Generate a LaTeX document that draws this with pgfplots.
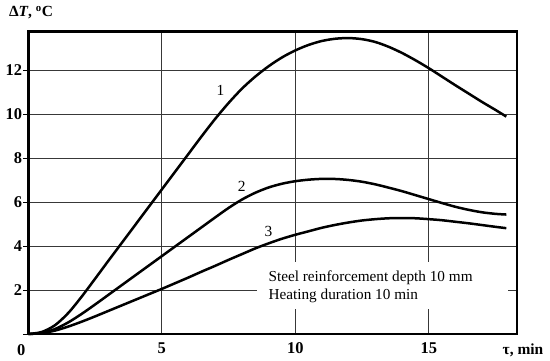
\documentclass[border=0pt]{standalone}
\usepackage{fontspec}
\setmainfont{Liberation Serif}
\usepackage{pgfplots}
\pgfplotsset{compat=1.18}

\pgfplotstableread{
t T
0 0
0.5 0.09
1 0.40
1.5 0.96
2 1.70
2.5 2.51
3 3.33
3.5 4.14
4 4.95
4.5 5.76
5 6.57
5.5 7.38
6 8.19
6.5 9.0
7 9.78
7.5 10.5
8 11.15
8.5 11.7
9 12.17
9.5 12.57
10 12.89
10.5 13.14
11 13.32
11.5 13.42
12 13.45
12.5 13.40
13 13.27
13.5 13.05
14 12.77
14.5 12.44
15 12.08
15.5 11.69
16 11.30
16.5 10.92
17 10.54
17.5 10.18
17.9 9.88
}\curveone

\pgfplotstableread{
t T
0 0
0.5 0.05
1 0.225
1.5 0.53
2 0.915
2.5 1.34
3 1.78
3.5 2.22
4 2.66
4.5 3.10
5 3.54
5.5 3.98
6 4.42
6.5 4.86
7 5.30
7.5 5.73
8 6.11
8.5 6.42
9 6.66
9.5 6.83
10 6.945
10.5 7.015
11 7.05
11.5 7.045
12 7.0
12.5 6.92
13 6.80
13.5 6.65
14 6.49
14.5 6.31
15 6.13
15.5 5.95
16 5.78
16.5 5.64
17 5.53
17.5 5.46
17.9 5.43
}\curvetwo

\pgfplotstableread{
t T
0 0
0.5 0.04
1 0.155
1.5 0.34
2 0.56
2.5 0.80
3 1.05
3.5 1.30
4 1.55
4.5 1.80
5 2.05
5.5 2.31
6 2.57
6.5 2.84
7 3.10
7.5 3.37
8 3.63
8.5 3.89
9 4.12
9.5 4.33
10 4.51
10.5 4.67
11 4.83
11.5 4.96
12 5.07
12.5 5.16
13 5.22
13.5 5.26
14 5.27
14.5 5.26
15 5.22
15.5 5.17
16 5.10
16.5 5.03
17 4.95
17.5 4.87
17.9 4.81
}\curvethree

\begin{document}
\begin{tikzpicture}
\begin{axis}[
  scale only axis,
  width=488.7bp, height=302.3bp,
  xmin=0, xmax=18.3, ymin=0, ymax=13.74,
  axis line style={line width=2.6bp},
  xtick={0,5,10,15}, xticklabels={,5,10,15},
  ytick={0,2,4,6,8,10,12}, yticklabels={,2,4,6,8,10,12},
  grid=major,
  major grid style={line width=0.9bp, color=black!78},
  tick align=outside,
  major tick length=5bp,
  xtick style={draw=none},
  ytick style={line width=0.9bp, color=black},
  xtick pos=left, ytick pos=left,
  /pgf/number format/assume math mode=true,
  tick label style={font=\fontsize{16.5}{16.5}\selectfont\bfseries},
  yticklabel style={inner sep=1bp},
  xticklabel style={inner sep=3.5bp},
  clip=false,
]
\addplot[line width=2.5bp, color=black, smooth, tension=0.5] table[x=t,y=T] {\curveone};
\addplot[line width=2.5bp, color=black, smooth, tension=0.5] table[x=t,y=T] {\curvetwo};
\addplot[line width=2.5bp, color=black, smooth, tension=0.5] table[x=t,y=T] {\curvethree};

\fill[white] (axis cs:8.57,1.14) rectangle (axis cs:17.97,3.27);
\node[anchor=base west, inner sep=0pt, font=\fontsize{15.3}{17}\selectfont] at (axis cs:8.99,2.38) {Steel reinforcement depth 10 mm};
\node[anchor=base west, inner sep=0pt, font=\fontsize{15.3}{17}\selectfont] at (axis cs:8.99,1.59) {Heating duration 10 min};

\node[font=\fontsize{15.5}{15.5}\selectfont] at (axis cs:7.2,11.09) {1};
\node[font=\fontsize{15.5}{15.5}\selectfont] at (axis cs:7.99,6.73) {2};
\node[font=\fontsize{15.5}{15.5}\selectfont] at (axis cs:8.99,4.64) {3};

\node[font=\fontsize{16.5}{16.5}\selectfont\bfseries] at ([xshift=-7bp,yshift=-16bp]rel axis cs:0,0) {0};
\node[font=\fontsize{15.5}{15.5}\selectfont\bfseries] at ([xshift=6bp,yshift=-16bp]rel axis cs:1,0) {τ, min};
\node[font=\fontsize{15.5}{15.5}\selectfont\bfseries] at ([xshift=2.7bp,yshift=18.7bp]rel axis cs:0,1) {Δ\textit{T}, \textsuperscript{o}C};

\coordinate (LL) at (rel axis cs:0,0);
\coordinate (UR) at (rel axis cs:1,1);
\end{axis}
\pgfresetboundingbox
\path[use as bounding box] ([xshift=-28.3bp,yshift=-27bp]LL) rectangle ([xshift=33bp,yshift=31.7bp]UR);
\end{tikzpicture}
\end{document}
